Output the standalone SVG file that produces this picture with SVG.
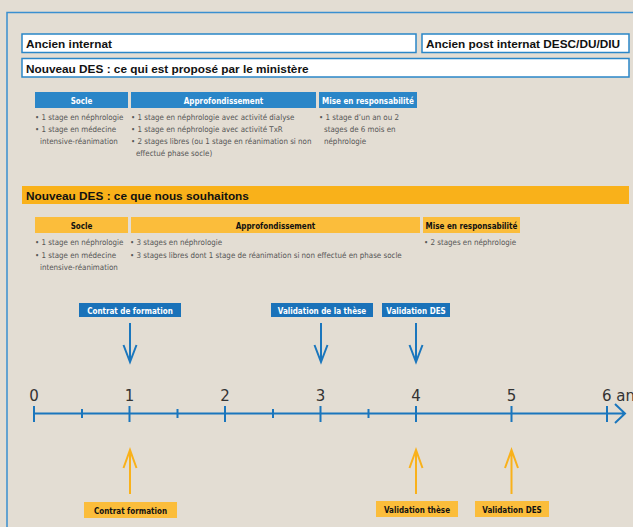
<svg xmlns="http://www.w3.org/2000/svg" width="633" height="527" viewBox="0 0 633 527">
<style>
.bg{fill:#e3ddd3}
.frame{fill:none;stroke:#3a8fd0;stroke-width:1.5}
.wbox{fill:#ffffff;stroke:#2a86c8;stroke-width:1.5}
.title{font-family:"Liberation Sans",Arial,sans-serif;font-weight:bold;font-size:11.8px;fill:#111}
.bhead{fill:#2a86c8}
.ohead{fill:#fbbd3b}
.oband{fill:#f9b11a}
.hb{font-family:"DejaVu Sans Condensed","DejaVu Sans",sans-serif;font-stretch:condensed;font-weight:bold;font-size:8px;fill:#fff;text-anchor:middle}
.ho{font-family:"DejaVu Sans Condensed","DejaVu Sans",sans-serif;font-stretch:condensed;font-weight:bold;font-size:8px;fill:#111;text-anchor:middle}
.bul{font-family:"DejaVu Sans Condensed","DejaVu Sans",sans-serif;font-stretch:condensed;font-size:7.9px;fill:#555}
.num{font-family:"DejaVu Sans","Open Sans",sans-serif;font-size:15px;fill:#333;text-anchor:middle}
.numl{font-family:"DejaVu Sans","Open Sans",sans-serif;font-size:15px;fill:#333;text-anchor:start}
.lblue{fill:#1a72b9}
.axis{stroke:#1a76bd;stroke-width:2;fill:none}
.barr{stroke:#1a76bd;stroke-width:2;fill:none}
.oarr{stroke:#f9b11a;stroke-width:2;fill:none}
</style>
<rect class="bg" x="0" y="0" width="633" height="527"/>
<path class="frame" d="M7 527 V12.5 H633"/>

<g id="ancien-internat">
<rect class="wbox" x="22" y="34" width="394" height="18.5"/>
<text class="title" x="26" y="48">Ancien internat</text>
</g>
<g id="ancien-post-internat">
<rect class="wbox" x="422" y="34" width="207" height="18.5"/>
<text class="title" x="426" y="48">Ancien post internat DESC/DU/DIU</text>
</g>
<g id="nouveau-des-ministere">
<rect class="wbox" x="22" y="58.5" width="607" height="18.5"/>
<text class="title" x="26" y="72.5">Nouveau DES : ce qui est proposé par le ministère</text>
</g>

<g id="m-socle">
<rect class="bhead" x="35" y="92" width="93" height="16"/>
<text class="hb" x="81.5" y="103.5">Socle</text>
<text class="bul" x="35" y="120">• 1 stage en néphrologie</text>
<text class="bul" x="35" y="132">• 1 stage en médecine</text>
<text class="bul" x="40" y="144">intensive-réanimation</text>
</g>
<g id="m-approfondissement">
<rect class="bhead" x="131" y="92" width="185" height="16"/>
<text class="hb" x="223.5" y="103.5">Approfondissement</text>
<text class="bul" x="131" y="120">• 1 stage en néphrologie avec activité dialyse</text>
<text class="bul" x="131" y="132">• 1 stage en néphrologie avec activité TxR</text>
<text class="bul" x="131" y="144">• 2 stages libres (ou 1 stage en réanimation si non</text>
<text class="bul" x="136" y="156">effectué phase socle)</text>
</g>
<g id="m-mise">
<rect class="bhead" x="319" y="92" width="98" height="16"/>
<text class="hb" x="368" y="103.5">Mise en responsabilité</text>
<text class="bul" x="319" y="120">• 1 stage d’un an ou 2</text>
<text class="bul" x="324" y="132">stages de 6 mois en</text>
<text class="bul" x="324" y="144">néphrologie</text>
</g>

<g id="nouveau-des-souhait">
<rect class="oband" x="22" y="186" width="607" height="18"/>
<text class="title" x="26" y="199.5">Nouveau DES : ce que nous souhaitons</text>
</g>
<g id="s-socle">
<rect class="ohead" x="35" y="217" width="93" height="16"/>
<text class="ho" x="81.5" y="228.5">Socle</text>
<text class="bul" x="35" y="245">• 1 stage en néphrologie</text>
<text class="bul" x="35" y="257.5">• 1 stage en médecine</text>
<text class="bul" x="40" y="270">intensive-réanimation</text>
</g>
<g id="s-approfondissement">
<rect class="ohead" x="131" y="217" width="289" height="16"/>
<text class="ho" x="275.5" y="228.5">Approfondissement</text>
<text class="bul" x="130" y="245">• 3 stages en néphrologie</text>
<text class="bul" x="130" y="257.5">• 3 stages libres dont 1 stage de réanimation si non effectué en phase socle</text>
</g>
<g id="s-mise">
<rect class="ohead" x="423" y="217" width="97" height="16"/>
<text class="ho" x="471.5" y="228.5">Mise en responsabilité</text>
<text class="bul" x="424" y="245">• 2 stages en néphrologie</text>
</g>

<g id="axis">
<path class="axis" d="M34 413.5 H625 M615 404 L625 413.5 L615 423"/>
<path class="axis" d="M34 406 V422 M129.5 406 V422 M225 406 V422 M320.5 406 V422 M416 406 V422 M511.5 406 V422 M607 406 V422"/>
<path class="axis" d="M82 409 V418 M177.5 409 V418 M273 409 V418 M368.5 409 V418"/>
<text class="num" x="34" y="401">0</text>
<text class="num" x="129.5" y="401">1</text>
<text class="num" x="225" y="401">2</text>
<text class="num" x="320.5" y="401">3</text>
<text class="num" x="416" y="401">4</text>
<text class="num" x="511.5" y="401">5</text>
<text class="numl" x="602" y="401">6 ans</text>
</g>

<g id="b-contrat">
<rect class="lblue" x="79" y="303" width="102" height="14"/>
<text class="hb" x="130" y="313.5">Contrat de formation</text>
</g>
<g id="b-these">
<rect class="lblue" x="271" y="303" width="102" height="14"/>
<text class="hb" x="322" y="313.5">Validation de la thèse</text>
</g>
<g id="b-des">
<rect class="lblue" x="382" y="303" width="68" height="14"/>
<text class="hb" x="416" y="313.5">Validation DES</text>
</g>

<g id="o-contrat">
<rect class="ohead" x="84" y="502" width="93" height="16"/>
<text class="ho" x="130.5" y="513.5">Contrat formation</text>
</g>
<g id="o-these">
<rect class="ohead" x="376" y="501" width="82" height="16"/>
<text class="ho" x="417" y="512.5">Validation thèse</text>
</g>
<g id="o-des">
<rect class="ohead" x="475" y="501" width="74" height="16"/>
<text class="ho" x="512" y="512.5">Validation DES</text>
</g>

<g id="connectors">
<path class="barr" d="M130 323 V361 M123.5 345 L130 362 L136.5 345"/>
<path class="barr" d="M321 323 V361 M314.5 345 L321 362 L327.5 345"/>
<path class="barr" d="M416 323 V361 M409.5 345 L416 362 L422.5 345"/>
<path class="oarr" d="M130 494 V450 M123.5 468 L130 450 L136.5 468"/>
<path class="oarr" d="M416 494 V450 M409.5 468 L416 450 L422.5 468"/>
<path class="oarr" d="M511.5 494 V450 M505 468 L511.5 450 L518 468"/>
</g>
</svg>
